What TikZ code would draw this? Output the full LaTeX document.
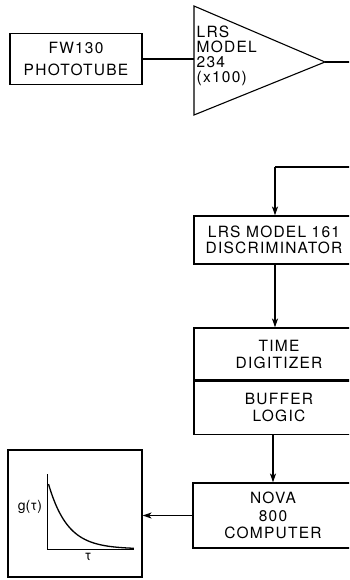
\documentclass[tikz,border=0pt]{standalone}
\usepackage{fontspec}
\newfontfamily\lf{TeX Gyre Heros}[LetterSpace=8]
\newfontfamily\gf{TeX Gyre Heros}
\usetikzlibrary{arrows.meta}
\tikzset{
  blk/.style={draw, line width=1.1pt, inner sep=0pt, align=center, font=\lf\fontsize{15.5}{17}\selectfont},
  conn/.style={line width=1.2pt},
  arr/.style={line width=1.2pt, -{Stealth[length=9pt,width=6pt,inset=2.5pt]}},
}
\begin{document}
\begin{tikzpicture}[x=1pt,y=-1pt]
\useasboundingbox (0,0) rectangle (349,580);
\clip (0,0) rectangle (349,580);
% phototube
\node[blk, minimum width=132pt, minimum height=51pt, font=\lf\fontsize{15.5}{22}\selectfont] (pt) at (76,59) {FW130\\PHOTOTUBE};
% amplifier triangle
\coordinate (ampt) at (194,6);
\coordinate (ampb) at (194,115);
\coordinate (ampo) at (325,62);
\coordinate (ampin) at (194,59);
\draw[line width=1.1pt, line join=miter] (ampt) -- (ampb) -- (ampo) -- cycle;
\node[inner sep=0pt, anchor=west, align=left, font=\lf\fontsize{15.5}{15}\selectfont] (ampl) at (196.5,56) {LRS\\MODEL\\234\\(x100)};
\draw[conn] (pt.east) -- (ampin);
\coordinate (outr) at (370,62);
\draw[conn] (ampo) -- (outr);
% discriminator
\node[blk, minimum width=160pt, minimum height=48pt, font=\lf\fontsize{15.5}{16}\selectfont] (disc) at (274,240) {LRS MODEL 161\\DISCRIMINATOR};
\coordinate (fbr) at (370,167);
\coordinate (fbc) at (275,167);
\draw[conn] (fbr) -- (fbc);
\draw[arr] (fbc) -- (disc.north -| fbc);
% time digitizer / buffer logic
\node[blk, minimum width=170pt, minimum height=52pt] (time) at (279,354) {TIME\\DIGITIZER};
\node[blk, minimum width=170pt, minimum height=53pt, anchor=north] (buf) at (time.south) {BUFFER\\LOGIC};
\draw[arr] (disc.south -| fbc) -- (time.north -| fbc);
% nova
\node[blk, minimum width=160pt, minimum height=65pt, font=\lf\fontsize{15.5}{17.5}\selectfont] (nova) at (273,515.5) {NOVA\\800\\COMPUTER};
\coordinate (bx) at (273,0);
\draw[arr] (buf.south -| bx) -- (nova.north -| bx);
% plot
\node[draw, line width=1.1pt, minimum width=134pt, minimum height=127pt, inner sep=0pt] (plot) at (75,513.5) {};
\draw[arr] (nova.west) -- (nova.west -| plot.east);
\coordinate (ax0) at (47,549);
\coordinate (axt) at (47,474);
\coordinate (axr) at (134,549);
\draw[line width=1pt] (axt) -- (ax0) -- (axr);
\draw[line width=1.3pt, domain=0:1, samples=60, smooth] plot ({48.5+85.5*\x},{549-65*exp(-4.5*\x)});
\node[inner sep=0pt, font=\gf\fontsize{14}{15}\selectfont] (gl) at (30,507) {g(τ)};
\node[inner sep=0pt, font=\gf\fontsize{14}{15}\selectfont] (tl) at (88,557) {τ};
\end{tikzpicture}
\end{document}
